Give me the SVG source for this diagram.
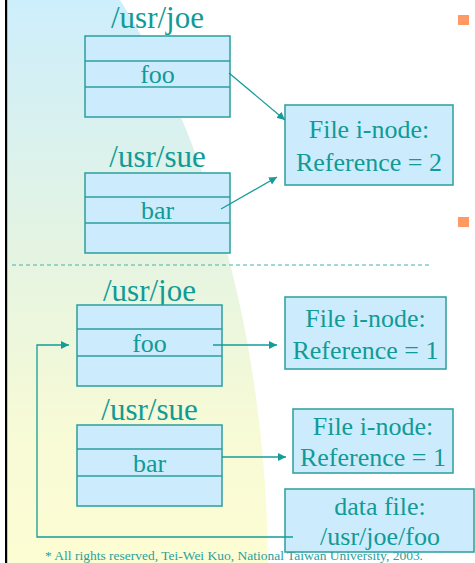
<svg xmlns="http://www.w3.org/2000/svg" width="475" height="563" viewBox="0 0 475 563">
<defs>
<linearGradient id="bg" x1="0" y1="0" x2="0" y2="1">
<stop offset="0" stop-color="#cdeefc"/>
<stop offset="0.45" stop-color="#e5f4e2"/>
<stop offset="0.75" stop-color="#f6fad6"/>
<stop offset="1" stop-color="#fdfdd3"/>
</linearGradient>
<marker id="ah" viewBox="0 0 10 10" refX="10" refY="5" markerWidth="8" markerHeight="8" markerUnits="userSpaceOnUse" orient="auto">
<path d="M0,0 L10,5 L0,10 Z" fill="#159c98"/>
</marker>
<style>
.box{fill:#ccecfd;stroke:#2a9f9c;stroke-width:1.5}
.div{stroke:#2a9f9c;stroke-width:1.5}
.t{fill:#119a96;text-anchor:middle}
.title{font-size:31px}
.lbl{font-size:26px}
.conn{stroke:#159c98;stroke-width:1.3;fill:none}
</style>
</defs>
<rect x="0" y="0" width="475" height="563" fill="#ffffff"/>
<path d="M7,0 L120,0 C190,110 265,300 268,563 L7,563 Z" fill="url(#bg)"/>
<rect x="5" y="0" width="2.2" height="563" fill="#000000"/>
<rect x="458" y="15" width="11" height="10" fill="#ff9966"/>
<rect x="458" y="217" width="11" height="10" fill="#ff9966"/>
<line x1="12" y1="265" x2="430" y2="265" stroke="#4aaeaa" stroke-width="1" stroke-dasharray="4,3"/>
<text x="45" y="560" font-family="Liberation Serif, Times New Roman, serif" font-size="11.5" fill="#2aa09c" textLength="378" lengthAdjust="spacingAndGlyphs">* All rights reserved, Tei-Wei Kuo, National Taiwan University, 2003.</text>

<g font-family="Liberation Serif, Times New Roman, serif">
<g id="dir-joe-top">
<text class="t title" x="157.5" y="28">/usr/joe</text>
<rect class="box" x="85" y="36" width="145" height="81"/>
<line class="div" x1="85" y1="61" x2="230" y2="61"/>
<line class="div" x1="85" y1="87" x2="230" y2="87"/>
<text class="t lbl" x="157.5" y="83">foo</text>
</g>
<g id="dir-sue-top">
<text class="t title" x="157.5" y="167">/usr/sue</text>
<rect class="box" x="85" y="173" width="145" height="80"/>
<line class="div" x1="85" y1="197" x2="230" y2="197"/>
<line class="div" x1="85" y1="223" x2="230" y2="223"/>
<text class="t lbl" x="157.5" y="219">bar</text>
</g>
<g id="inode-2">
<rect class="box" x="285" y="105" width="168" height="80"/>
<text class="t lbl" x="369" y="138">File i-node:</text>
<text class="t lbl" x="369" y="171">Reference = 2</text>
</g>
<g id="dir-joe-bottom">
<text class="t title" x="149.5" y="301">/usr/joe</text>
<rect class="box" x="77" y="305" width="145" height="81"/>
<line class="div" x1="77" y1="329" x2="222" y2="329"/>
<line class="div" x1="77" y1="356" x2="222" y2="356"/>
<text class="t lbl" x="149.5" y="352">foo</text>
</g>
<g id="inode-1a">
<rect class="box" x="285" y="297" width="161" height="72"/>
<text class="t lbl" x="365.5" y="327">File i-node:</text>
<text class="t lbl" x="365.5" y="359">Reference = 1</text>
</g>
<g id="dir-sue-bottom">
<text class="t title" x="149.5" y="420">/usr/sue</text>
<rect class="box" x="77" y="425" width="145" height="81"/>
<line class="div" x1="77" y1="449" x2="222" y2="449"/>
<line class="div" x1="77" y1="476" x2="222" y2="476"/>
<text class="t lbl" x="149.5" y="472">bar</text>
</g>
<g id="inode-1b">
<rect class="box" x="293" y="409" width="160" height="64"/>
<text class="t lbl" x="373" y="435">File i-node:</text>
<text class="t lbl" x="373" y="466">Reference = 1</text>
</g>
<g id="data-file">
<rect class="box" x="285" y="489" width="189" height="63"/>
<text class="t lbl" x="380" y="515">data file:</text>
<text class="t lbl" x="380" y="545">/usr/joe/foo</text>
</g>
</g>

<g id="connectors">
<line class="conn" x1="229" y1="73" x2="285" y2="120" marker-end="url(#ah)"/>
<line class="conn" x1="221" y1="209" x2="277" y2="177" marker-end="url(#ah)"/>
<line class="conn" x1="213" y1="345" x2="277" y2="345" marker-end="url(#ah)"/>
<line class="conn" x1="222" y1="457" x2="286" y2="457" marker-end="url(#ah)"/>
<polyline class="conn" points="293,537 37,537 37,345 69,345" marker-end="url(#ah)"/>
</g>
</svg>
